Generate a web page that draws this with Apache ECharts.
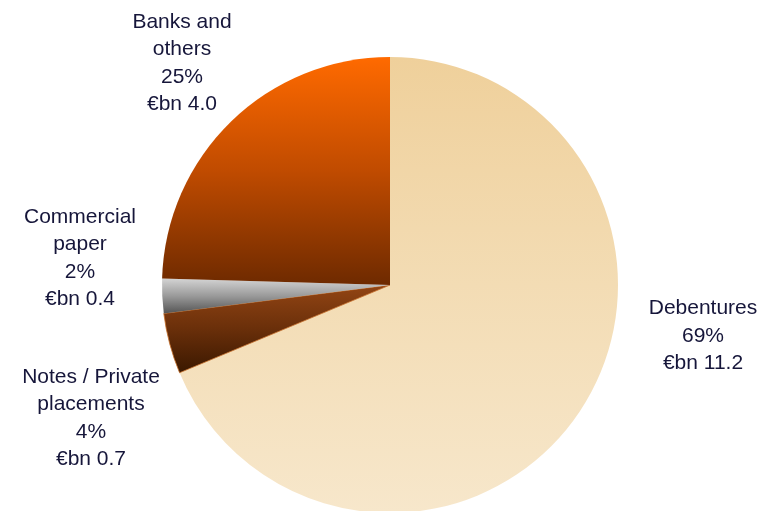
<!DOCTYPE html>
<html>
<head>
<meta charset="utf-8">
<script src="https://cdn.jsdelivr.net/npm/echarts@6/dist/echarts.min.js"></script>
<style>
  html, body { margin: 0; padding: 0; background: #fff; }
  #main { width: 764px; height: 511px; }
</style>
</head>
<body>
<div id="main"></div>
<script>
// data
const categories = ['Debentures', 'Notes / Private\nplacements', 'Commercial\npaper', 'Banks and\nothers']
const amounts = [11.2, 0.7, 0.4, 4.0]
const shares = ['69%', '4%', '2%', '25%']

// label centres (px) for each slice
const labelPos = [[703, 336], [91, 418], [80, 258], [182, 63]]

// vertical gradients for each slice
const sliceColors = [
  ['#EFD09B', '#F3DCB4', '#F7E7CB'],
  ['#934514', '#6A2F0A', '#3A1800'],
  ['#D4D4D4', '#9A9A9A', '#555555'],
  ['#FF6A00', '#C04B00', '#6E2A00']
]

const chart = echarts.init(document.getElementById('main'))

const data = categories.map((name, i) => ({
  name: name,
  value: amounts[i],
  itemStyle: {
    // only the notes slice shows a thin orange edge
    borderWidth: i === 1 ? 0.8 : 0,
    borderColor: '#C8702A',
    color: {
      type: 'linear', x: 0, y: 0, x2: 0, y2: 1,
      colorStops: [
        { offset: 0, color: sliceColors[i][0] },
        { offset: 0.5, color: sliceColors[i][1] },
        { offset: 1, color: sliceColors[i][2] }
      ]
    }
  }
}))

chart.setOption({
  animation: false,
  series: [{
    type: 'pie',
    center: [390, 285],
    radius: 228,
    startAngle: 90,
    clockwise: true,
    avoidLabelOverlap: false,
    emphasis: { disabled: true },
    label: {
      show: true,
      position: 'outside',
      color: '#16163a',
      fontFamily: 'Liberation Sans, Arial, sans-serif',
      fontSize: 21,
      lineHeight: 27.5,
      align: 'center',
      verticalAlign: 'middle',
      formatter: p => p.name + '\n' + shares[p.dataIndex] + '\n€bn ' + amounts[p.dataIndex].toFixed(1)
    },
    labelLine: { show: false },
    labelLayout: p => ({
      x: labelPos[p.dataIndex][0],
      y: labelPos[p.dataIndex][1],
      align: 'center',
      verticalAlign: 'middle'
    }),
    data: data
  }]
})
</script>
</body>
</html>
